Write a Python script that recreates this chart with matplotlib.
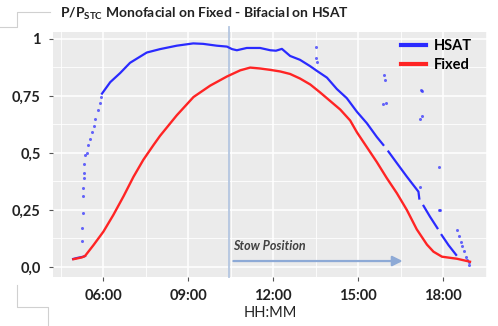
import numpy as np
import matplotlib
matplotlib.use("Agg")
import matplotlib.pyplot as plt
from matplotlib.lines import Line2D

plt.rcParams['font.family'] = ['Lato', 'DejaVu Sans']
plt.rcParams['mathtext.fontset'] = 'custom'
plt.rcParams['mathtext.bf'] = 'Lato:bold'
plt.rcParams['mathtext.rm'] = 'Lato'

# ---- data (hours of day, P/Pstc) ----
fixed_t = [4.95, 5.25, 5.36, 5.66, 6.01, 6.36, 6.72, 7.07, 7.42, 7.78, 8.01, 8.60, 9.19,
           9.78, 10.37, 10.84, 11.19, 11.54, 11.90, 12.25, 12.60, 12.95, 13.31, 13.66,
           14.01, 14.37, 14.72, 14.96, 15.31, 15.66, 16.01, 16.37, 16.72, 17.07, 17.43,
           17.66, 17.96, 18.49, 18.95]
fixed_v = [0.034, 0.042, 0.048, 0.096, 0.155, 0.228, 0.31, 0.395, 0.47, 0.535, 0.575, 0.665, 0.745,
           0.795, 0.835, 0.862, 0.874, 0.870, 0.864, 0.857, 0.846, 0.826, 0.80, 0.765,
           0.728, 0.69, 0.642, 0.59, 0.525, 0.46, 0.39, 0.323, 0.25, 0.165, 0.098,
           0.067, 0.045, 0.036, 0.023]

# HSAT continuous segments (NaN = data gap)
hsat_t = [4.94, 5.10, 5.30, 5.36, np.nan,
          5.96, 6.25, 6.60, 6.95, 7.54, 8.01, 8.60, 9.18, 9.53, 10.01, 10.37, 10.55, 10.72,
          11.07, 11.54, 11.90, 12.10, 12.31, 12.60, 12.95, 13.31, 13.54, 13.90, 14.25,
          14.60, 14.96, 15.31, 15.66, 15.89, np.nan,
          16.07, 16.37, 16.72, 17.13, 17.16, np.nan,
          17.31, 17.54, 17.80, np.nan,
          17.95, 18.19, 18.46]
hsat_v = [0.035, 0.040, 0.045, 0.048, np.nan,
          0.76, 0.81, 0.85, 0.895, 0.94, 0.955, 0.97, 0.98, 0.978, 0.97, 0.966, 0.955, 0.95,
          0.96, 0.96, 0.95, 0.948, 0.956, 0.925, 0.908, 0.88, 0.86, 0.83, 0.78,
          0.74, 0.68, 0.63, 0.57, 0.535, np.nan,
          0.506, 0.455, 0.396, 0.33, 0.30, np.nan,
          0.268, 0.22, 0.17, np.nan,
          0.14, 0.096, 0.053]

# HSAT scattered points
hsat_pts_t = [5.24, 5.26, 5.28, 5.28, 5.29, 5.31, 5.31, 5.33, 5.36, 5.42, 5.47, 5.55, 5.59,
              5.67, 5.72, 5.83, 5.89, 5.94,
              13.52, 13.50, 13.54, 15.90, 15.95, 15.89, 15.98, 17.21, 17.26, 17.19, 17.24,
              17.19, 17.86, 17.84, 17.88,
              18.50, 18.56, 18.62, 18.68, 18.74, 18.81, 18.85, 18.90, 18.93]
hsat_pts_v = [0.114, 0.17, 0.235, 0.31, 0.346, 0.39, 0.41, 0.45, 0.49, 0.50, 0.535, 0.56, 0.59,
              0.62, 0.65, 0.69, 0.72, 0.745,
              0.966, 0.915, 0.90, 0.84, 0.82, 0.715, 0.72, 0.776, 0.77, 0.65, 0.66,
              0.35, 0.44, 0.25, 0.25,
              0.16, 0.135, 0.11, 0.09, 0.07, 0.045, 0.03, 0.02, 0.01]

xticks = [6, 9, 12, 15, 18]
xticklabels = ["06:00", "09:00", "12:00", "15:00", "18:00"]
yticks = [0, 0.25, 0.5, 0.75, 1]
yticklabels = ["0,0", "0,25", "0,5", "0,75", "1"]
stow_t = 10.45
arrow_end = 16.67

BLUE = '#2a2aff'
RED = '#ff2424'

fig = plt.figure(figsize=(4.98, 3.26), dpi=100)
ax = fig.add_axes([53/498, 49/326, 434/498, 245/326])
ax.set_facecolor('#ebebeb')
for s in ax.spines.values():
    s.set_visible(False)

ax.set_xlim(4.23, 19.55)
ax.set_ylim(-0.044, 1.03)
ax.set_xticks(xticks)
ax.set_xticklabels(xticklabels, fontweight='bold', fontsize=10.5)
ax.set_yticks(yticks)
ax.set_yticklabels(yticklabels, fontweight='bold', fontsize=10.5)
ax.set_xticks([4.5, 7.5, 10.5, 13.5, 16.5, 19.5], minor=True)
ax.set_yticks([0.125, 0.375, 0.625, 0.875], minor=True)
ax.tick_params(axis='both', which='major', length=3, color='#555555', width=0.8,
               labelcolor='#222222', pad=6)
ax.tick_params(axis='both', which='minor', length=0)
ax.grid(True, which='major', color='white', lw=1.1)
ax.grid(True, which='minor', color='white', lw=0.6)
ax.set_axisbelow(True)
ax.set_xlabel("HH:MM", fontsize=10.5, color='#222222', labelpad=2)

ax.axvline(stow_t, ymin=0, ymax=1.02, color='#b4c6e0', lw=1.3, clip_on=False, zorder=2)

ax.plot(hsat_t, hsat_v, color=BLUE, lw=1.6, zorder=3)
ax.plot(hsat_pts_t, hsat_pts_v, ls='none', marker='o', ms=2.2, mec='none',
        color=BLUE, alpha=0.7, zorder=3)
ax.plot(fixed_t, fixed_v, color=RED, lw=1.7, zorder=4)

ax.annotate('', xy=(arrow_end, 0.026), xytext=(stow_t + 0.05, 0.026),
            arrowprops=dict(arrowstyle='-|>,head_length=0.6,head_width=0.3',
                            color='#8eaad6', lw=1.6), zorder=2)
ax.text(stow_t + 0.15, 0.09, "Stow Position", fontsize=9, fontweight='bold',
        fontstyle='italic', color='#404040', va='center', ha='left')

handles = [Line2D([], [], color=BLUE, lw=3), Line2D([], [], color=RED, lw=3)]
leg = ax.legend(handles, ["HSAT", "Fixed"], loc='upper right', frameon=False,
                prop={'weight': 'bold', 'size': 10.5}, handlelength=1.7,
                handletextpad=0.5, labelspacing=0.35,
                bbox_to_anchor=(0.995, 1.025))

fig.text(60/498, 1 - 14/326, r"P/P$_{\mathbf{STC}}$ Monofacial on Fixed - Bifacial on HSAT",
         fontsize=10, fontweight='bold', color='#222222', va='center', ha='left')

# decorative frame marks
lc = '#d0d0d0'
fig.add_artist(Line2D([0/498, 17/498, 17/498, 50/498], [1-27/326, 1-27/326, 1-12/326, 1-12/326],
                      color=lc, lw=0.8))
fig.add_artist(Line2D([17/498, 17/498, 48/498, 48/498], [1-285/326, 1-307/326, 1-307/326, 0],
                      color=lc, lw=0.8))

fig.savefig("out.png", dpi=100)
